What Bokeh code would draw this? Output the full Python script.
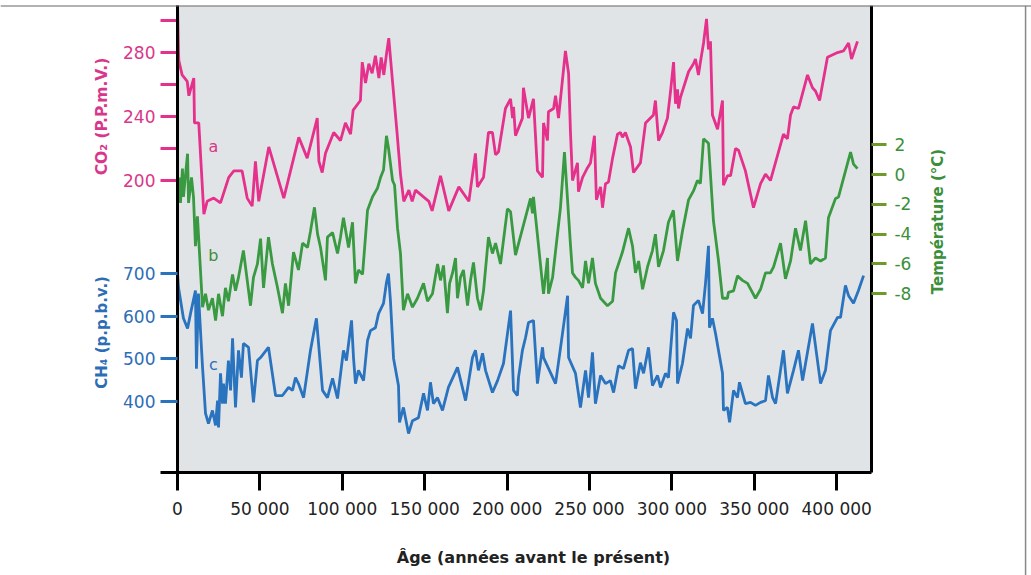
import math
from bokeh.plotting import figure
from bokeh.models import Range1d, LinearAxis, FixedTicker, Label, BoxAnnotation, Span
from bokeh.embed import file_html
from bokeh.resources import INLINE

# ---------------- data ----------------
co2_age = [0, 600, 800, 2800, 5900, 6900, 9900, 10300, 12900, 16000, 18000, 22000, 26100,
           31100, 34200, 39200, 42300, 45300, 47300, 49300, 55400, 64500, 73600, 78700,
           84800, 85800, 87800, 89800, 94800, 98900, 101900, 105000, 106600, 111000,
           112100, 114100, 116100, 118100, 120100, 122200, 123600, 125200, 126800, 128200,
           130300, 133300, 135300, 137300, 140400, 142400, 144400, 152500, 154500, 159600,
           164600, 170700, 176800, 180800, 182000, 185700, 188700, 191100, 193000, 194800,
           199000, 202100, 203300, 203900, 205100, 209300, 209900, 213000, 216000, 218400,
           221500, 222100, 224500, 225100, 228200, 229400, 231200, 235400, 237300, 238500,
           239700, 242700, 243300, 245800, 248800, 250600, 253000, 254200, 256700, 257900,
           259700, 261500, 264000, 267000, 268800, 270000, 271800, 274900, 276700, 280900,
           284000, 288800, 290000, 291900, 294300, 297300, 299200, 301000, 302200, 303400,
           304000, 305200, 310100, 313100, 314300, 316100, 317300, 319200, 321000, 322200,
           323400, 324600, 327700, 330700, 331300, 333700, 335600, 338600, 340400, 344600,
           349500, 353800, 356800, 359800, 367700, 370100, 372000, 373800, 376800, 382300,
           385300, 387100, 389600, 394400, 400500, 404100, 407200, 409000, 412600]
co2_ppmv = [310, 281, 275, 266, 262, 253, 264, 236, 236, 179, 187, 189, 186,
            202, 206, 206, 189, 184, 212, 187, 221, 189, 227, 214,
            239, 212, 205, 217, 230, 225, 236, 229, 244, 250,
            274, 261, 273, 267, 278, 264, 277, 266, 279, 289,
            264, 229, 204, 187, 194, 187, 194, 187, 181, 203,
            181, 196, 187, 217, 196, 202, 230, 230, 216, 218,
            245, 251, 239, 246, 228, 239, 258, 239, 251, 206,
            202, 236, 225, 243, 245, 253, 239, 281, 267, 229,
            200, 211, 193, 202, 208, 211, 228, 188, 196, 183,
            198, 199, 214, 229, 230, 227, 230, 221, 205, 211,
            236, 241, 250, 225, 230, 239, 256, 274, 248, 257,
            245, 252, 268, 273, 276, 266, 274, 286, 301, 282,
            287, 241, 232, 250, 197, 203, 203, 220, 219, 206,
            183, 198, 204, 200, 229, 226, 241, 246, 245, 266,
            258, 256, 250, 277, 280, 281, 286, 276, 287]

temp_age = [0, 1000, 1800, 3000, 3600, 6100, 6700, 8500, 9700, 10900, 12100, 15200, 17000,
            18800, 21200, 23100, 24900, 27300, 29100, 30900, 33400, 35200, 37000, 40000,
            44300, 46100, 48500, 50400, 52200, 55200, 57600, 60700, 63700, 65500, 67400,
            70400, 73400, 75900, 78900, 80700, 83100, 85000, 86800, 89800, 91000, 94100,
            97100, 98900, 100700, 103800, 106200, 108000, 109800, 112300, 115300, 118300,
            121400, 123200, 125000, 126800, 128000, 130500, 131700, 133500, 135300, 137100,
            139600, 142600, 145600, 149300, 151700, 154700, 157800, 159600, 161400, 163800,
            165100, 166900, 168700, 169900, 171700, 173500, 176000, 177800, 179600, 182000,
            183900, 185700, 188700, 191100, 193000, 196000, 200200, 202100, 205100, 214200,
            215400, 216000, 222100, 224500, 225100, 227600, 232400, 234800, 238500, 239700,
            241500, 243300, 245800, 247600, 249400, 251800, 253600, 256700, 260900, 264000,
            265800, 270000, 273700, 276100, 277900, 279800, 282200, 285200, 288200, 290000,
            291900, 294900, 297900, 300900, 303400, 306400, 310100, 313100, 315500, 317300,
            319200, 322200, 325200, 328300, 330700, 333700, 334300, 337400, 339800, 342800,
            345900, 350700, 353800, 356800, 359800, 361700, 365900, 368900, 372000, 375000,
            378000, 381100, 384100, 387100, 390200, 393200, 395000, 399300, 401100, 408400,
            410200, 412600]
temp_c = [-1.5, -0.2, -1.9, 0.4, -1.5, 1.4, -1.9, -0.2, -1.5, -4.8, -2.8, -8.9, -8.0,
          -9.1, -8.3, -9.8, -8.0, -9.5, -7.6, -8.5, -6.7, -7.8, -6.9, -5.1,
          -8.8, -6.9, -6.0, -4.3, -7.6, -4.2, -6.0, -7.6, -9.3, -7.3, -8.8,
          -5.2, -6.4, -4.6, -4.9, -3.8, -2.2, -4.0, -4.9, -7.1, -4.2, -3.9,
          -5.3, -4.2, -2.9, -4.9, -3.2, -7.3, -6.4, -6.7, -2.4, -1.5,
          -0.9, -0.2, 0.3, 2.6, 1.8, -0.4, -0.7, -3.6, -5.3, -9.1,
          -8.0, -8.9, -8.3, -7.3, -8.5, -8.0, -6.0, -7.1, -6.1, -9.3,
          -7.3, -6.6, -5.6, -8.3, -6.9, -6.4, -8.8, -7.1, -5.9, -8.3,
          -9.1, -7.8, -4.2, -5.3, -4.6, -6.0, -2.3, -2.5, -5.4, -1.6,
          -2.6, -1.5, -8.0, -5.6, -8.0, -6.9, -2.2, 1.5, -4.8, -6.6,
          -6.9, -7.1, -7.6, -5.8, -7.3, -5.6, -7.3, -8.3, -8.8, -8.5,
          -6.6, -5.2, -3.6, -4.8, -6.6, -5.8, -7.7, -6.2, -5.1, -4.0,
          -6.2, -5.1, -3.2, -2.4, -5.8, -3.8, -1.7, -1.1, -0.4, -0.6,
          2.4, 2.1, -3.1, -5.8, -8.3, -8.3, -7.9, -7.8, -6.8, -7.1,
          -7.3, -8.3, -7.7, -6.6, -6.6, -6.2, -4.6, -7.0, -5.8, -3.6,
          -5.1, -3.1, -6.0, -5.6, -5.8, -5.6, -2.9, -1.6, -1.5, 1.5,
          0.7, 0.4]

ch4_age = [0, 600, 3600, 6100, 7900, 10900, 11500, 12700, 15200, 17000, 18800, 21200, 23100,
           24300, 24900, 26100, 27300, 27900, 29100, 30900, 32200, 33400, 35200, 37000,
           38800, 40000, 43100, 46100, 48500, 50400, 55200, 59500, 63700, 67400, 69800,
           71600, 73400, 76500, 80700, 84300, 88000, 91000, 94100, 97100, 100700, 102500,
           105600, 106800, 108000, 109800, 112900, 115300, 117100, 120100, 122000, 125000,
           126800, 128000, 129200, 131100, 134100, 134700, 137100, 140200, 142600, 146200,
           149300, 151700, 153500, 155300, 157800, 160800, 164400, 169900, 174800, 179000,
           180800, 182600, 185100, 186900, 191100, 194200, 197800, 202100, 203900, 206300,
           206900, 209300, 211200, 213000, 216000, 218400, 221500, 222100, 229400, 233600,
           236700, 237300, 241500, 244500, 247600, 249400, 251800, 253600, 256700, 259700,
           262700, 264600, 267600, 270600, 273700, 276100, 277900, 280900, 282800, 285800,
           288200, 291300, 293100, 296100, 297900, 301000, 302800, 303400, 306400, 309500,
           311300, 313100, 316100, 318600, 320400, 322200, 322800, 324600, 326500, 330700,
           331300, 333700, 335000, 337400, 339800, 341000, 344600, 347700, 350700, 353800,
           356800, 358600, 361100, 362900, 367700, 370100, 373800, 376800, 379300, 385300,
           390200, 393200, 396200, 400500, 402300, 405300, 407200, 410200, 413200, 416300]
ch4_ppbv = [702, 667, 595, 571, 606, 660, 477, 653, 480, 372, 348, 379, 344,
            402, 339, 466, 395, 442, 395, 496, 426, 548, 386, 520,
            456, 536, 527, 398, 496, 503, 527, 414, 414, 433, 426,
            456, 442, 409, 520, 595, 426, 409, 454, 407, 520, 496,
            590, 503, 442, 473, 449, 543, 566, 573, 606, 630,
            679, 700, 637, 501, 437, 351, 386, 325, 355, 362,
            419, 379, 445, 395, 409, 379, 433, 480, 402, 503,
            520, 473, 513, 473, 421, 449, 489, 613, 426, 414,
            456, 520, 550, 585, 590, 442, 527, 503, 442, 559,
            648, 503, 466, 386, 473, 409, 515, 395, 461, 442,
            449, 421, 484, 477, 520, 524, 430, 491, 466, 527,
            437, 461, 433, 466, 456, 609, 590, 442, 489, 571,
            548, 625, 637, 606, 677, 765, 573, 595, 559, 466,
            379, 386, 351, 426, 409, 445, 395, 398, 391, 398,
            402, 461, 409, 395, 520, 419, 473, 520, 449, 583,
            442, 473, 566, 597, 597, 672, 648, 630, 660, 695]

x_ticks = [0, 50000, 100000, 150000, 200000, 250000, 300000, 350000, 400000]
x_tick_labels = ["0", "50 000", "100 000", "150 000", "200 000", "250 000",
                 "300 000", "350 000", "400 000"]
co2_ticks = [200, 240, 280]
co2_minor = [220, 260, 300]
ch4_ticks = [400, 500, 600, 700]
temp_ticks = [2, 0, -2, -4, -6, -8]
temp_tick_labels = [" 2", " 0", "-2", "-4", "-6", "-8"]

PINK = "#E5318B"
GREEN = "#3A9A42"
BLUE = "#2A73BF"
PINK_TXT = "#D9378A"
BLUE_TXT = "#2D6DB6"
GREEN_TXT = "#3C8F3A"
GREEN_TICK = "#6E9A2C"
GRAY_BG = "#E1E4E7"
FONT = "DejaVu Sans"

# chart limits (age axis, and the three vertical scales of the grey panel)
X_END = 421100
CO2_LO, CO2_HI = 17.5, 309.4
T_LO, T_HI = -20.0, 11.34
CH4_LO, CH4_HI = 233.6, 1328.1

# the frame covers the whole canvas; the grey panel is drawn inside it
p = figure(width=1031, height=575, output_backend="svg", toolbar_location=None,
           x_range=Range1d(-107400, 518200), y_range=Range1d(-46.9, CO2_HI),
           min_border_left=0, min_border_right=0, min_border_top=5,
           min_border_bottom=0, x_axis_location=None, y_axis_location=None)
p.extra_y_ranges = {"temp": Range1d(-26.9, T_HI), "ch4": Range1d(-7.8, CH4_HI)}
p.background_fill_color = "white"
p.border_fill_color = "white"
p.outline_line_color = None
p.xgrid.visible = False
p.ygrid.visible = False

# grey panel of the chart
p.add_layout(BoxAnnotation(left=0, right=X_END, bottom=CO2_LO, fill_color=GRAY_BG,
                           fill_alpha=1.0, line_color=None, level="underlay"))
# thin border lines of the picture
p.add_layout(Span(location=CO2_HI, dimension="width", line_color="#666666", line_width=2))
p.add_layout(Span(location=514600, dimension="height", line_color="#888888", line_width=1.5))

# curves
p.line(co2_age, co2_ppmv, line_color=PINK, line_width=2.8)
p.line(temp_age, temp_c, line_color=GREEN, line_width=2.8, y_range_name="temp")
p.line(ch4_age, ch4_ppbv, line_color=BLUE, line_width=2.8, y_range_name="ch4")

# x axis (at the bottom of the grey panel)
xax = LinearAxis(fixed_location=CO2_LO, ticker=FixedTicker(ticks=x_ticks),
                 bounds=(-10300, X_END),
                 major_label_overrides=dict(zip(x_ticks, x_tick_labels)),
                 axis_line_color="black", axis_line_width=3,
                 major_tick_line_color="black", major_tick_line_width=3,
                 major_tick_out=18, major_tick_in=0, minor_tick_line_color=None,
                 major_label_standoff=9, major_label_text_font=FONT,
                 major_label_text_font_size="17px", major_label_text_color="#222222")
p.add_layout(xax, "below")

# CO2 axis (left, at age 0)
co2ax = LinearAxis(fixed_location=0, bounds=(CO2_LO, CO2_HI),
                   ticker=FixedTicker(ticks=co2_ticks, minor_ticks=co2_minor),
                   axis_line_color="black", axis_line_width=3,
                   major_tick_line_color=PINK, major_tick_line_width=3,
                   major_tick_out=17, major_tick_in=0,
                   minor_tick_line_color=PINK, minor_tick_line_width=3,
                   minor_tick_out=17, minor_tick_in=0,
                   major_label_standoff=5, major_label_text_font=FONT,
                   major_label_text_font_size="17px", major_label_text_color=PINK_TXT)
p.add_layout(co2ax, "left")

# CH4 axis (left, same position)
ch4ax = LinearAxis(y_range_name="ch4", fixed_location=0, bounds=(CH4_LO, CH4_HI),
                   ticker=FixedTicker(ticks=ch4_ticks),
                   axis_line_color="black", axis_line_width=3,
                   major_tick_line_color=BLUE, major_tick_line_width=3,
                   major_tick_out=17, major_tick_in=0, minor_tick_line_color=None,
                   major_label_standoff=5, major_label_text_font=FONT,
                   major_label_text_font_size="17px", major_label_text_color=BLUE_TXT)
p.add_layout(ch4ax, "left")

# Temperature axis (right edge of the grey panel)
tax = LinearAxis(y_range_name="temp", fixed_location=X_END, bounds=(T_LO, T_HI),
                 ticker=FixedTicker(ticks=temp_ticks),
                 major_label_overrides=dict(zip(temp_ticks, temp_tick_labels)),
                 axis_line_color="black", axis_line_width=3,
                 major_tick_line_color=GREEN_TICK, major_tick_line_width=3,
                 major_tick_out=15, major_tick_in=0, minor_tick_line_color=None,
                 major_label_standoff=8, major_label_text_font=FONT,
                 major_label_text_font_size="17px", major_label_text_color=GREEN_TXT)
p.add_layout(tax, "right")

# axis titles
p.add_layout(Label(x=-46100, y=240, text="CO₂ (P.P.m.V.)",
                   angle=math.pi / 2, text_align="center", text_baseline="middle",
                   text_font=FONT, text_font_style="bold", text_font_size="15.5px",
                   text_color=PINK_TXT))
p.add_layout(Label(x=-46100, y=562, y_range_name="ch4", text="CH₄ (p.p.b.v.)",
                   angle=math.pi / 2, text_align="center", text_baseline="middle",
                   text_font=FONT, text_font_style="bold", text_font_size="15px",
                   text_color=BLUE_TXT))
p.add_layout(Label(x=461200, y=-3.15, y_range_name="temp",
                   text="Température (°C)", angle=math.pi / 2, text_align="center",
                   text_baseline="middle", text_font=FONT, text_font_style="bold",
                   text_font_size="15px", text_color=GREEN_TXT))
p.add_layout(Label(x=216000, y=34.3, y_range_name="ch4",
                   text="Âge (années avant le présent)", text_align="center",
                   text_baseline="middle", text_font=FONT, text_font_style="bold",
                   text_font_size="16px", text_color="#222222"))

# curve letters
p.add_layout(Label(x=21800, y=221, text="a", text_align="center", text_baseline="middle",
                   text_font=FONT, text_font_size="16px", text_color=PINK_TXT))
p.add_layout(Label(x=21800, y=-5.4, y_range_name="temp", text="b", text_align="center",
                   text_baseline="middle", text_font=FONT, text_font_size="16px",
                   text_color=GREEN_TXT))
p.add_layout(Label(x=21800, y=487, y_range_name="ch4", text="c", text_align="center",
                   text_baseline="middle", text_font=FONT, text_font_size="16px",
                   text_color=BLUE_TXT))

open("out.html", "w").write(file_html(p, INLINE))
